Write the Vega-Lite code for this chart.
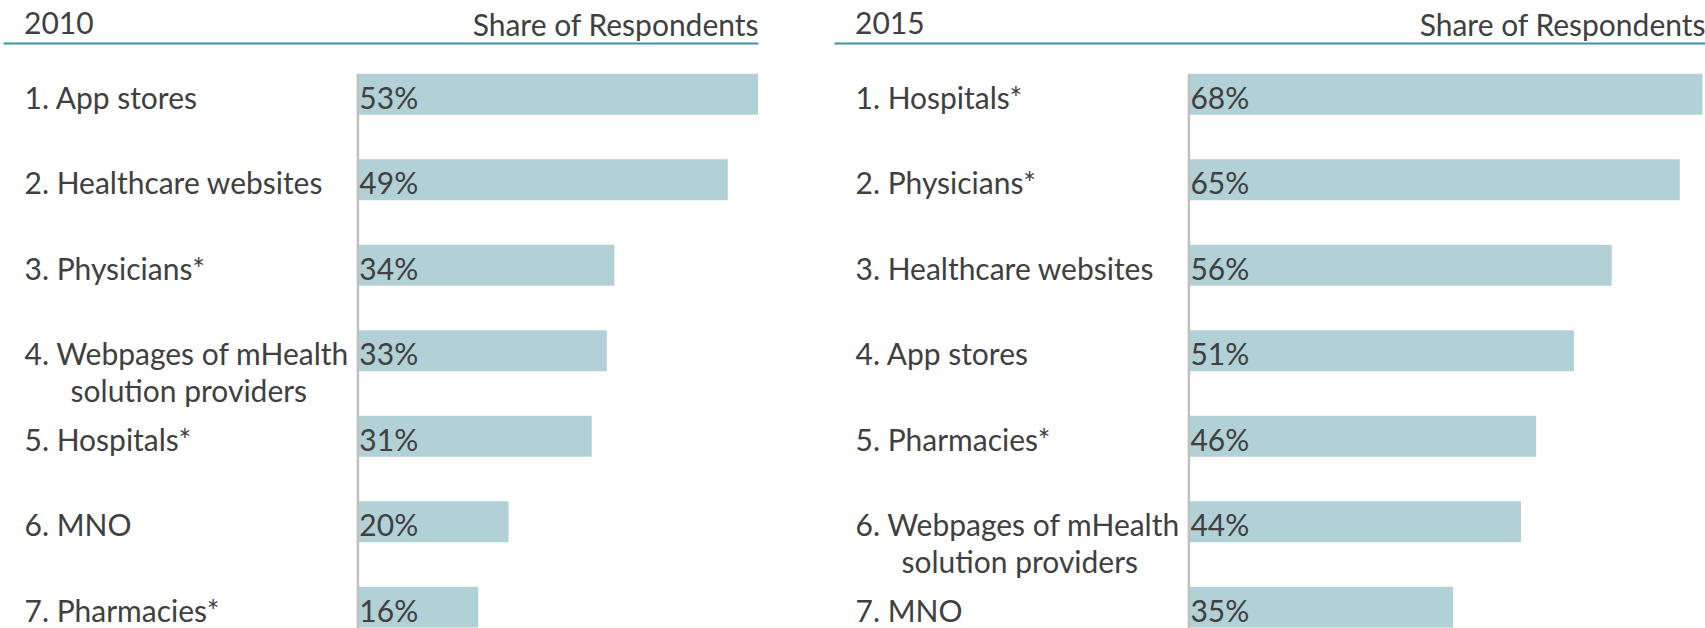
{
  "$schema": "https://vega.github.io/schema/vega-lite/v6.json",
  "background": "white",
  "padding": {"left": 3, "top": 10, "right": 0, "bottom": 0},
  "spacing": 76,
  "bounds": "flush",
  "datasets": {
    "y2010": [
      {"label": "1. App stores", "share": 0.53},
      {"label": "2. Healthcare websites", "share": 0.49},
      {"label": "3. Physicians*", "share": 0.34},
      {"label": "4. Webpages of mHealth solution providers", "share": 0.33},
      {"label": "5. Hospitals*", "share": 0.31},
      {"label": "6. MNO", "share": 0.20},
      {"label": "7. Pharmacies*", "share": 0.16}
    ],
    "y2015": [
      {"label": "1. Hospitals*", "share": 0.68},
      {"label": "2. Physicians*", "share": 0.65},
      {"label": "3. Healthcare websites", "share": 0.56},
      {"label": "4. App stores", "share": 0.51},
      {"label": "5. Pharmacies*", "share": 0.46},
      {"label": "6. Webpages of mHealth solution providers", "share": 0.44},
      {"label": "7. MNO", "share": 0.35}
    ]
  },
  "config": {
    "view": {"stroke": null},
    "font": "Lato",
    "title": {"font": "Lato", "fontSize": 30, "fontWeight": "normal", "color": "#404040"},
    "axis": {"labelFont": "Lato", "titleFont": "Lato", "labelColor": "#404040", "titleColor": "#404040"}
  },
  "hconcat": [
    {
      "width": 755,
      "height": 584.7,
      "data": {"name": "y2010"},
      "title": {"text": "2010", "anchor": "start", "frame": "group", "dx": 21, "dy": 52, "baseline": "alphabetic", "offset": 0},
      "encoding": {
        "y": {
          "field": "label", "type": "nominal", "sort": null,
          "scale": {"range": [30.7, 584.7], "paddingInner": 0.5206, "paddingOuter": 0},
          "axis": {
            "orient": "left", "offset": -354.4, "zindex": 1, "title": null,
            "domainColor": "#c0c0c0", "domainWidth": 2.5, "ticks": false,
            "labelAlign": "left", "labelPadding": 333.4, "labelBaseline": "alphabetic", "labelOffset": 14.5,
            "labelFontSize": 30, "labelLineHeight": 37, "labelLimit": 500,
            "labelExpr": "indexof(datum.value, ' solution') > 0 ? [substring(datum.value, 0, indexof(datum.value, ' solution')), '\u200b\u00a0\u00a0\u00a0\u00a0\u00a0\u00a0' + substring(datum.value, indexof(datum.value, ' solution') + 1)] : datum.value"
          }
        }
      },
      "layer": [
        {
          "mark": {"type": "bar", "color": "#b2d1d6", "clip": true},
          "encoding": {
            "x": {
              "field": "share", "type": "quantitative",
              "scale": {"domain": [-0.46878, 0.53], "nice": false, "zero": false},
              "axis": {
                "orient": "top", "domainColor": "#3a93a8", "domainWidth": 2, "ticks": false, "labels": false, "grid": false,
                "title": "Share of Respondents", "titleAnchor": "end", "titleAlign": "right", "titleBaseline": "alphabetic",
                "titleFontSize": 30, "titleFontWeight": "normal", "titlePadding": 7
              }
            },
            "x2": {"datum": 0}
          }
        },
        {
          "mark": {"type": "text", "align": "left", "baseline": "alphabetic", "dx": 2, "dy": 14.5, "fontSize": 30, "color": "#404040", "font": "Lato"},
          "encoding": {
            "x": {"datum": 0},
            "text": {"field": "share", "type": "quantitative", "format": ".0%"}
          }
        }
      ]
    },
    {
      "width": 871,
      "height": 584.7,
      "data": {"name": "y2015"},
      "title": {"text": "2015", "anchor": "start", "frame": "group", "dx": 21, "dy": 52, "baseline": "alphabetic", "offset": 0},
      "encoding": {
        "y": {
          "field": "label", "type": "nominal", "sort": null,
          "scale": {"range": [30.7, 584.7], "paddingInner": 0.5206, "paddingOuter": 0},
          "axis": {
            "orient": "left", "offset": -354.4, "zindex": 1, "title": null,
            "domainColor": "#c0c0c0", "domainWidth": 2.5, "ticks": false,
            "labelAlign": "left", "labelPadding": 333.4, "labelBaseline": "alphabetic", "labelOffset": 14.5,
            "labelFontSize": 30, "labelLineHeight": 37, "labelLimit": 500,
            "labelExpr": "indexof(datum.value, ' solution') > 0 ? [substring(datum.value, 0, indexof(datum.value, ' solution')), '\u200b\u00a0\u00a0\u00a0\u00a0\u00a0\u00a0' + substring(datum.value, indexof(datum.value, ' solution') + 1)] : datum.value"
          }
        }
      },
      "layer": [
        {
          "mark": {"type": "bar", "color": "#b2d1d6", "clip": true},
          "encoding": {
            "x": {
              "field": "share", "type": "quantitative",
              "scale": {"domain": [-0.46878, 0.68333], "nice": false, "zero": false},
              "axis": {
                "orient": "top", "domainColor": "#3a93a8", "domainWidth": 2, "ticks": false, "labels": false, "grid": false,
                "title": "Share of Respondents", "titleAnchor": "end", "titleAlign": "right", "titleBaseline": "alphabetic",
                "titleFontSize": 30, "titleFontWeight": "normal", "titlePadding": 7
              }
            },
            "x2": {"datum": 0}
          }
        },
        {
          "mark": {"type": "text", "align": "left", "baseline": "alphabetic", "dx": 2, "dy": 14.5, "fontSize": 30, "color": "#404040", "font": "Lato"},
          "encoding": {
            "x": {"datum": 0},
            "text": {"field": "share", "type": "quantitative", "format": ".0%"}
          }
        }
      ]
    }
  ]
}
